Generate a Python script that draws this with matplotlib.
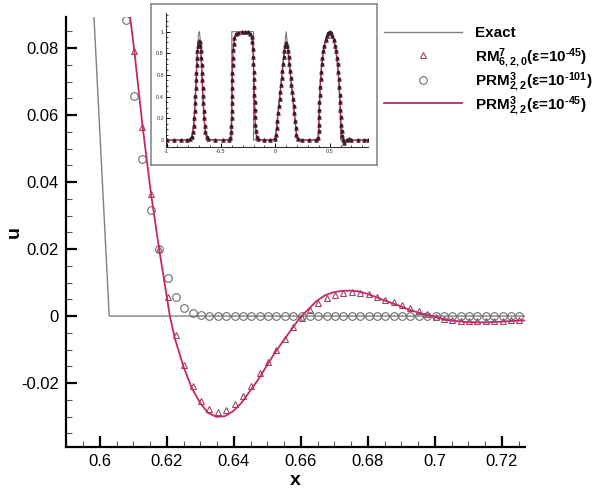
import matplotlib
matplotlib.use("Agg")
import matplotlib.pyplot as plt
from matplotlib.lines import Line2D
from matplotlib.ticker import MultipleLocator, FuncFormatter

plt.rcParams['font.family'] = ['Liberation Sans', 'DejaVu Sans']
plt.rcParams['mathtext.fontset'] = 'custom'
plt.rcParams['mathtext.rm'] = 'Liberation Sans:bold'
plt.rcParams['mathtext.it'] = 'Liberation Sans:bold'
plt.rcParams['mathtext.bf'] = 'Liberation Sans:bold'

# ---- main plot data (zoom near the right foot of the ellipse) ----
exact_x = [0.5977, 0.6028, 0.7300]
exact_u = [0.1000, 0.0000, 0.0000]

prm45_x = [0.6085, 0.6090, 0.6102, 0.6127, 0.6152, 0.6177, 0.6209, 0.6224, 0.6249, 0.6274,
           0.6299, 0.6323, 0.6348, 0.6373, 0.6398, 0.6423, 0.6448, 0.6473, 0.6498, 0.6522,
           0.6547, 0.6572, 0.6597, 0.6622, 0.6647, 0.6672, 0.6697, 0.6721, 0.6746, 0.6771,
           0.6796, 0.6821, 0.6846, 0.6871, 0.6896, 0.6920, 0.6945, 0.6970, 0.6995, 0.7020,
           0.7045, 0.7095, 0.7144, 0.7194, 0.7244, 0.7269]
prm45_u = [0.0930, 0.0896, 0.0800, 0.0572, 0.0370, 0.0200, 0.0000, -0.0067, -0.0149, -0.0214,
           -0.0259, -0.0289, -0.0301, -0.0299, -0.0284, -0.0259, -0.0224, -0.0189, -0.0149, -0.0110,
           -0.0075, -0.0040, -0.0005, 0.0020, 0.0045, 0.0062, 0.0071, 0.0075, 0.0076, 0.0074,
           0.0067, 0.0058, 0.0048, 0.0039, 0.0030, 0.0020, 0.0012, 0.0005, -0.0001, -0.0008,
           -0.0013, -0.0018, -0.0019, -0.0017, -0.0014, -0.0013]

rm_x = [0.6102, 0.6127, 0.6152, 0.6177, 0.6202, 0.6227, 0.6252, 0.6277, 0.6302, 0.6327,
        0.6352, 0.6377, 0.6402, 0.6427, 0.6452, 0.6477, 0.6502, 0.6527, 0.6552, 0.6577,
        0.6602, 0.6627, 0.6652, 0.6677, 0.6702, 0.6727, 0.6752, 0.6777, 0.6802, 0.6827,
        0.6852, 0.6877, 0.6902, 0.6927, 0.6952, 0.6977, 0.7002, 0.7027, 0.7052, 0.7077,
        0.7102, 0.7127, 0.7152, 0.7177, 0.7202, 0.7227, 0.7252]
rm_u = [0.0791, 0.0564, 0.0365, 0.0199, 0.0057, -0.0058, -0.0147, -0.0209, -0.0254, -0.0277,
        -0.0285, -0.0281, -0.0264, -0.0239, -0.0209, -0.0171, -0.0136, -0.0101, -0.0068, -0.0033,
        -0.0005, 0.0019, 0.0038, 0.0053, 0.0064, 0.0069, 0.0071, 0.0070, 0.0065, 0.0058,
        0.0049, 0.0041, 0.0032, 0.0023, 0.0014, 0.0005, -0.0003, -0.0009, -0.0013, -0.0015,
        -0.0016, -0.0016, -0.0016, -0.0015, -0.0014, -0.0013, -0.0012]

prm101_x = [0.6077, 0.6102, 0.6127, 0.6152, 0.6177, 0.6202, 0.6227, 0.6252, 0.6277, 0.6302,
            0.6327, 0.6352, 0.6377, 0.6402, 0.6427, 0.6452, 0.6477, 0.6502, 0.6527, 0.6552,
            0.6577, 0.6602, 0.6627, 0.6652, 0.6677, 0.6702, 0.6727, 0.6752, 0.6777, 0.6802,
            0.6827, 0.6852, 0.6877, 0.6902, 0.6927, 0.6952, 0.6977, 0.7002, 0.7027, 0.7052,
            0.7077, 0.7102, 0.7127, 0.7152, 0.7177, 0.7202, 0.7227, 0.7252]
prm101_u = [0.0883, 0.0657, 0.0470, 0.0316, 0.0199, 0.0114, 0.0057, 0.0025, 0.0008, 0.0002,
            0.0, 0.0, 0.0, 0.0, 0.0, 0.0, 0.0, 0.0, 0.0, 0.0,
            0.0, 0.0, 0.0, 0.0, 0.0, 0.0, 0.0, 0.0, 0.0, 0.0,
            0.0, 0.0, 0.0, 0.0, 0.0, 0.0, 0.0, 0.0, 0.0, 0.0,
            0.0, 0.0, 0.0, 0.0, 0.0, 0.0, 0.0, 0.0]

# ---- inset data (whole domain) ----
in_exact_x = [-1.0, -0.8, -0.79, -0.78, -0.77, -0.76, -0.75, -0.74, -0.73, -0.72, -0.71, -0.705,
              -0.7, -0.695, -0.69, -0.68, -0.67, -0.66, -0.65, -0.64, -0.63, -0.62, -0.61, -0.6,
              -0.4, -0.4, -0.2, -0.2, 0.0, 0.1, 0.2, 0.4, 0.4005, 0.402, 0.405, 0.41, 0.42, 0.43,
              0.44, 0.46, 0.48, 0.5, 0.52, 0.54, 0.56, 0.57, 0.58, 0.59, 0.595, 0.598, 0.5995,
              0.6, 0.85]
in_exact_u = [0.0, 0.0, 0.002, 0.007, 0.023, 0.063, 0.146, 0.292, 0.5, 0.735, 0.926, 0.981,
              1.0, 0.981, 0.926, 0.735, 0.5, 0.292, 0.146, 0.063, 0.023, 0.007, 0.002, 0.0,
              0.0, 1.0, 1.0, 0.0, 0.0, 1.0, 0.0, 0.0, 0.0999, 0.199, 0.312, 0.436, 0.6, 0.714,
              0.8, 0.917, 0.98, 1.0, 0.98, 0.917, 0.8, 0.714, 0.6, 0.436, 0.312, 0.199, 0.0999,
              0.0, 0.0]

in_num_x = [-1.0, -0.935, -0.87, -0.81, -0.785, -0.768, -0.758, -0.7515, -0.7457, -0.7412,
            -0.7374, -0.734, -0.7309, -0.7279, -0.7249, -0.722, -0.7189, -0.7156, -0.711, -0.705,
            -0.7, -0.695, -0.689, -0.6844, -0.6811, -0.678, -0.6751, -0.6721, -0.6691, -0.666,
            -0.6626, -0.6588, -0.6543, -0.6485, -0.642, -0.632, -0.615, -0.55, -0.485, -0.43,
            -0.412, -0.407, -0.404, -0.402, -0.4, -0.399, -0.398, -0.397, -0.396, -0.395,
            -0.393, -0.391, -0.388, -0.383, -0.375, -0.362, -0.34, -0.31, -0.28, -0.25,
            -0.23, -0.217, -0.21, -0.206, -0.203, -0.201, -0.199, -0.197, -0.195, -0.193,
            -0.191, -0.189, -0.187, -0.184, -0.18, -0.172, -0.155, -0.1, -0.045, -0.005,
            0.005, 0.012, 0.019, 0.026, 0.032, 0.039, 0.045, 0.052, 0.058, 0.065,
            0.071, 0.078, 0.084, 0.091, 0.1, 0.109, 0.116, 0.122, 0.129, 0.135,
            0.142, 0.148, 0.155, 0.161, 0.168, 0.174, 0.181, 0.188, 0.195, 0.205,
            0.25, 0.31, 0.37, 0.392, 0.398, 0.4, 0.402, 0.404, 0.406, 0.409,
            0.412, 0.416, 0.421, 0.427, 0.434, 0.442, 0.451, 0.462, 0.474, 0.487,
            0.5, 0.513, 0.526, 0.538, 0.549, 0.558, 0.566, 0.573, 0.579, 0.584,
            0.588, 0.592, 0.596, 0.599, 0.602, 0.605, 0.609, 0.614, 0.621, 0.636,
            0.66, 0.676, 0.7, 0.76, 0.82, 0.85]
in_num_u = [0.0, 0.0, 0.0, 0.0, 0.005, 0.03, 0.075, 0.13, 0.2, 0.27,
            0.34, 0.41, 0.48, 0.55, 0.62, 0.69, 0.76, 0.82, 0.87, 0.905,
            0.915, 0.905, 0.87, 0.82, 0.76, 0.69, 0.62, 0.55, 0.48, 0.41,
            0.34, 0.27, 0.2, 0.13, 0.075, 0.03, 0.005, 0.0, 0.0, 0.003,
            0.02, 0.07, 0.13, 0.2, 0.27, 0.34, 0.41, 0.48, 0.55, 0.62,
            0.69, 0.76, 0.83, 0.89, 0.94, 0.975, 0.99, 1.0, 1.0, 0.995,
            0.98, 0.95, 0.9, 0.84, 0.77, 0.7, 0.63, 0.56, 0.49, 0.42,
            0.35, 0.28, 0.21, 0.14, 0.08, 0.03, 0.005, 0.0, 0.0, 0.01,
            0.05, 0.11, 0.18, 0.25, 0.31, 0.38, 0.44, 0.51, 0.57, 0.64,
            0.7, 0.77, 0.82, 0.87, 0.895, 0.87, 0.82, 0.77, 0.7, 0.64,
            0.57, 0.51, 0.44, 0.38, 0.31, 0.25, 0.18, 0.11, 0.05, 0.01,
            0.0, 0.0, 0.002, 0.02, 0.08, 0.14, 0.21, 0.28, 0.35, 0.42,
            0.49, 0.56, 0.63, 0.7, 0.76, 0.82, 0.87, 0.92, 0.96, 0.985,
            0.993, 0.985, 0.96, 0.92, 0.87, 0.82, 0.76, 0.7, 0.63, 0.56,
            0.49, 0.42, 0.35, 0.28, 0.21, 0.14, 0.08, 0.04, 0.0, -0.03,
            0.0, 0.0075, 0.0, -0.0015, 0.0, 0.0]

labels = ['Exact',
          r'RM$^{7}_{6,2,0}$(ε=10$^{\text{-45}}$)',
          r'PRM$^{3}_{2,2}$(ε=10$^{\text{-101}}$)',
          r'PRM$^{3}_{2,2}$(ε=10$^{\text{-45}}$)']

GRAY = '#808080'
PINK = '#c8246f'
TRI = '#9b4a5a'
CIRC = '#6e6e6e'
W, H = 593, 488

fig = plt.figure(figsize=(5.93, 4.88), dpi=100)
ax = fig.add_axes([0.1113, 0.084, 0.774, 0.8812], zorder=1)

ax.plot(exact_x, exact_u, color=GRAY, lw=1.0, zorder=2)
ax.plot(rm_x, rm_u, ls='none', marker='^', ms=5, mfc='none', mec=TRI, mew=0.8, zorder=3)
ax.plot(prm101_x, prm101_u, ls='none', marker='o', ms=5.5, mfc='none', mec=CIRC, mew=0.8, zorder=3)
ax.plot(prm45_x, prm45_u, color=PINK, lw=1.3, zorder=4)

ax.set_xlim(0.5899, 0.7269)
ax.set_ylim(-0.0391, 0.0893)
for s in ['top', 'right']:
    ax.spines[s].set_visible(False)
for s in ['left', 'bottom']:
    ax.spines[s].set_linewidth(1.6)
ax.xaxis.set_major_locator(MultipleLocator(0.02))
ax.xaxis.set_minor_locator(MultipleLocator(0.005))
ax.yaxis.set_major_locator(MultipleLocator(0.02))
ax.yaxis.set_minor_locator(MultipleLocator(0.005))
fmt = FuncFormatter(lambda v, p: '%g' % round(v, 4))
ax.xaxis.set_major_formatter(fmt)
ax.yaxis.set_major_formatter(fmt)
ax.tick_params(which='major', direction='in', length=8, width=1.6, labelsize=12, pad=5)
ax.tick_params(which='minor', direction='in', length=4, width=0.8, color='#555555')
ax.set_xlabel('x', fontsize=14, fontweight='bold', labelpad=2)
ax.set_ylabel('u', fontsize=14, fontweight='bold')
ax.yaxis.set_label_coords(-0.094, 0.5)

# legend, placed by hand like the Tecplot one
leg_rows = [37, 61, 85, 109]          # text baselines (px from top)
leg_marks = [32, 54.5, 79.5, 102.5]  # symbol centres
handles = [dict(color=GRAY, lw=1.0),
           dict(ls='none', marker='^', ms=5, mfc='none', mec=TRI, mew=0.8),
           dict(ls='none', marker='o', ms=5.5, mfc='none', mec=CIRC, mew=0.8),
           dict(color=PINK, lw=1.3)]
for lab, yb, ym, kw in zip(labels, leg_rows, leg_marks, handles):
    if kw.get('ls') == 'none':
        xs = [423 / W]
    else:
        xs = [384 / W, 462 / W]
    fig.add_artist(Line2D(xs, [1 - ym / H] * len(xs), transform=fig.transFigure, **kw))
    fig.text(475 / W, 1 - yb / H, lab, fontsize=11, fontweight='bold', va='baseline', ha='left')

# inset frame
frame = fig.add_axes([0.2546, 0.6619, 0.3812, 0.3299], zorder=2)
frame.set_xticks([])
frame.set_yticks([])
for s in frame.spines.values():
    s.set_color('#8a8a8a')
    s.set_linewidth(1.2)

ins = fig.add_axes([0.2799, 0.6982, 0.3402, 0.2758], zorder=3)
ins.patch.set_alpha(0)
ins.plot(in_exact_x, in_exact_u, color='#7a7a7a', lw=0.8, zorder=2)
ins.plot(in_num_x, in_num_u, color=PINK, lw=1.0, zorder=3)
ins.plot(in_num_x, in_num_u, ls='none', marker='^', ms=2.6, mfc='none', mec='#5a1030', mew=0.6, zorder=4)
ins.plot(in_num_x, in_num_u, ls='none', marker='o', ms=2.2, mfc='#3a1020', mec='#3a3a3a', mew=0.4, zorder=4)
ins.set_xlim(-1.005, 0.85)
ins.set_ylim(-0.067, 1.175)
for s in ['top', 'right']:
    ins.spines[s].set_visible(False)
for s in ['left', 'bottom']:
    ins.spines[s].set_linewidth(0.8)
    ins.spines[s].set_color('#333333')
ins.xaxis.set_major_locator(MultipleLocator(0.5))
ins.xaxis.set_minor_locator(MultipleLocator(0.1))
ins.yaxis.set_major_locator(MultipleLocator(0.2))
ins.yaxis.set_minor_locator(MultipleLocator(0.05))
ins.xaxis.set_major_formatter(fmt)
ins.yaxis.set_major_formatter(fmt)
ins.tick_params(which='major', direction='in', length=3, width=0.7, labelsize=4, pad=1.5, labelcolor='#333333')
ins.tick_params(which='minor', direction='in', length=1.5, width=0.5)

fig.savefig('out.png', dpi=100)
